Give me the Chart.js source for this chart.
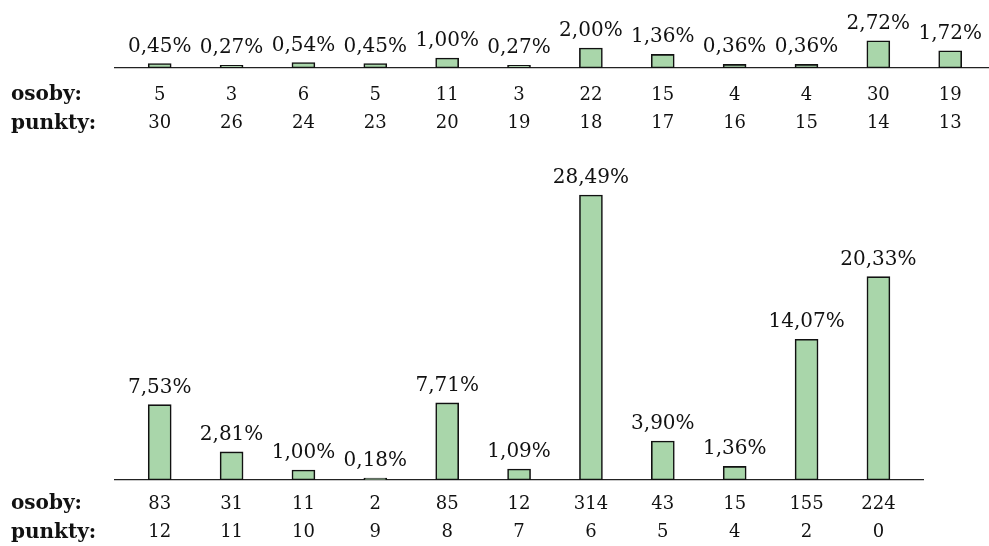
<!DOCTYPE html>
<html>
<head>
<meta charset="utf-8">
<script src="https://cdn.jsdelivr.net/npm/chart.js@4.4.0/dist/chart.umd.min.js"></script>
<style>
  html, body { margin: 0; padding: 0; background: #fff; overflow: hidden; }
  .box { position: absolute; left: 0; width: 989px; }
</style>
</head>
<body>
<div class="box" style="top:0;height:140px"><canvas id="top"></canvas></div>
<div class="box" style="top:150px;height:396px"><canvas id="bottom"></canvas></div>
<script>
// górny panel
const topPercent = [0.45, 0.27, 0.54, 0.45, 1.00, 0.27, 2.00, 1.36, 0.36, 0.36, 2.72, 1.72];
const topOsoby   = [5, 3, 6, 5, 11, 3, 22, 15, 4, 4, 30, 19];
const topPunkty  = [30, 26, 24, 23, 20, 19, 18, 17, 16, 15, 14, 13];

// dolny panel
const bottomPercent = [7.53, 2.81, 1.00, 0.18, 7.71, 1.09, 28.49, 3.90, 1.36, 14.07, 20.33];
const bottomOsoby   = [83, 31, 11, 2, 85, 12, 314, 43, 15, 155, 224];
const bottomPunkty  = [12, 11, 10, 9, 8, 7, 6, 5, 4, 2, 0];

const rowNames = ['osoby:', 'punkty:'];

const SERIF = '"DejaVu Serif", "Liberation Serif", serif';
const LINE_H = 28.5;

const fmt = v => v.toFixed(2).replace('.', ',') + '%';

// etykiety procentowe nad słupkami i nazwy wierszy po lewej
const labelsPlugin = {
  id: 'labels',
  afterDatasetsDraw(chart, args, opts) {
    const ctx = chart.ctx;
    const meta = chart.getDatasetMeta(0);
    const values = chart.data.datasets[0].data;
    ctx.save();
    ctx.fillStyle = '#111';
    ctx.font = '20px ' + SERIF;
    ctx.textAlign = 'center';
    ctx.textBaseline = 'alphabetic';
    meta.data.forEach((bar, i) => {
      ctx.fillText(fmt(values[i].y), bar.x, bar.y - 12);
    });
    const xs = chart.scales.x;
    const y0 = xs.top + opts.pad + LINE_H / 2;
    ctx.font = 'bold 20px ' + SERIF;
    ctx.textAlign = 'left';
    ctx.textBaseline = 'middle';
    rowNames.forEach((name, r) => ctx.fillText(name, 11, y0 + r * LINE_H));
    ctx.restore();
  }
};

function makeChart(id, percent, osoby, punkty, opt) {
  const data = percent.map((v, i) => ({ x: i, y: v }));
  return new Chart(document.getElementById(id), {
    type: 'bar',
    data: {
      datasets: [{
        data: data,
        backgroundColor: '#a9d6aa',
        borderColor: '#111',
        borderWidth: 1.6,
        borderSkipped: false,
        barThickness: 23
      }]
    },
    options: {
      responsive: true,
      maintainAspectRatio: false,
      animation: false,
      layout: { padding: { left: 115, right: opt.right, top: 0, bottom: 0 } },
      plugins: {
        legend: { display: false },
        tooltip: { enabled: false },
        labels: { pad: opt.pad }
      },
      scales: {
        x: {
          type: 'linear',
          offset: false,
          min: -0.622,
          max: opt.xmax,
          grid: { display: false, drawTicks: false },
          border: { display: true, color: '#222', width: 1.3 },
          afterBuildTicks: s => { s.ticks = osoby.map((_, i) => ({ value: i })); },
          afterFit: s => { s.height = opt.axisH; },
          ticks: {
            autoSkip: false,
            maxRotation: 0,
            padding: opt.pad,
            color: '#111',
            font: { family: SERIF, size: 18, lineHeight: LINE_H / 18 },
            callback: v => [String(osoby[v]), String(punkty[v])]
          }
        },
        y: {
          display: false,
          min: 0,
          max: opt.ymax
        }
      }
    },
    plugins: [labelsPlugin]
  });
}

makeChart('top', topPercent, topOsoby, topPunkty,
  { right: 0, xmax: 11.54, axisH: 72, pad: 13, ymax: 6.8 });
makeChart('bottom', bottomPercent, bottomOsoby, bottomPunkty,
  { right: 66, xmax: 10.62, axisH: 66, pad: 10, ymax: 33 });
</script>
</body>
</html>
